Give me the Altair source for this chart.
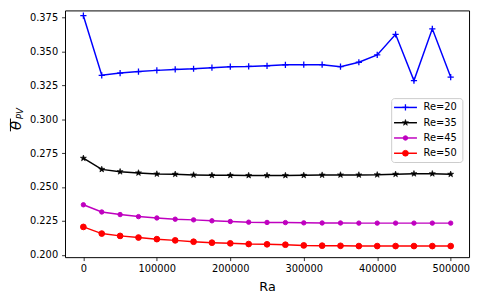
import math
import altair as alt
import pandas as pd

# ---------------- data ----------------
ra = [0, 25000, 50000, 75000, 100000, 125000, 150000, 175000, 200000, 225000,
      250000, 275000, 300000, 325000, 350000, 375000, 400000, 425000, 450000,
      475000, 500000]
re20 = [0.3762, 0.3323, 0.3339, 0.3350, 0.3359, 0.3366, 0.3371, 0.3379, 0.3386,
        0.3388, 0.3393, 0.3400, 0.3401, 0.3401, 0.3386, 0.3419, 0.3473, 0.3625,
        0.3284, 0.3665, 0.3310]
re35 = [0.2712, 0.2630, 0.2613, 0.2604, 0.2596, 0.2594, 0.2589, 0.2586, 0.2586,
        0.2585, 0.2585, 0.2585, 0.2586, 0.2588, 0.2589, 0.2589, 0.2590, 0.2594,
        0.2598, 0.2598, 0.2594]
re45 = [0.2369, 0.2316, 0.2297, 0.2282, 0.2272, 0.2263, 0.2258, 0.2251, 0.2246,
        0.2241, 0.2239, 0.2238, 0.2236, 0.2235, 0.2235, 0.2234, 0.2234, 0.2234,
        0.2234, 0.2234, 0.2234]
re50 = [0.2206, 0.2157, 0.2140, 0.2128, 0.2116, 0.2107, 0.2097, 0.2090, 0.2085,
        0.2080, 0.2078, 0.2075, 0.2070, 0.2068, 0.2067, 0.2065, 0.2065, 0.2065,
        0.2065, 0.2065, 0.2065]
labels = ["Re=20", "Re=35", "Re=45", "Re=50"]
x_ticks = [0, 100000, 200000, 300000, 400000, 500000]
y_ticks = [0.200, 0.225, 0.250, 0.275, 0.300, 0.325, 0.350, 0.375]

# ---------------- styles ----------------
colors = ["#0000ff", "#000000", "#bf00bf", "#ff0000"]
star = "M" + "L".join(
    f"{(1 if k % 2 == 0 else 0.40) * math.cos(-math.pi / 2 + k * math.pi / 5):.3f},"
    f"{(1 if k % 2 == 0 else 0.40) * math.sin(-math.pi / 2 + k * math.pi / 5):.3f}"
    for k in range(10)) + "Z"
plus = "M-1,0L1,0M0,-1L0,1"
shapes = [plus, star, "circle", "circle"]
sizes = [40, 42, 20, 34]
swidths = [1.3, 0.6, 1.0, 1.0]

series = [re20, re35, re45, re50]
rows = []
for i, lab in enumerate(labels):
    for xv, yv in zip(ra, series[i]):
        rows.append({"Ra": xv, "theta": yv, "series": lab, "color": colors[i],
                     "shape": shapes[i], "size": sizes[i], "sw": swidths[i]})
df = pd.DataFrame(rows)

leg = pd.DataFrame({"label": labels, "idx": list(range(4)), "color": colors,
                    "shape": shapes, "size": sizes, "sw": swidths})
one = pd.DataFrame({"a": [0]})

W, H = 411, 251
FONT = "DejaVu Sans"

xs = alt.Scale(domain=[-25000, 525000], nice=False, zero=False)
ys = alt.Scale(domain=[0.19833, 0.38007], nice=False, zero=False)
xaxis = alt.Axis(values=x_ticks, format="d", labelOverlap=False)
yaxis = alt.Axis(values=y_ticks, format=".3f", labelOverlap=False)
X = alt.X("Ra:Q", scale=xs, title="Ra", axis=xaxis)
Y = alt.Y("theta:Q", scale=ys, title=None, axis=yaxis)

base = alt.Chart(df)
lines = base.mark_line(strokeWidth=1.5).encode(
    x=X, y=Y,
    color=alt.Color("color:N", scale=None),
    detail="series:N",
)
pts = base.mark_point(filled=True, opacity=1).encode(
    x=X, y=Y,
    shape=alt.Shape("shape:N", scale=None),
    size=alt.Size("size:Q", scale=None),
    fill=alt.Fill("color:N", scale=None),
    stroke=alt.Stroke("color:N", scale=None),
    strokeWidth=alt.StrokeWidth("sw:Q", scale=None),
)
main = alt.layer(lines, pts)

# ---------------- legend ----------------
ly = alt.Y("idx:Q", scale=alt.Scale(domain=[0, 3], range=[98.7, 145.3]), axis=None)
box = alt.Chart(one).mark_rect(fill="white", fillOpacity=0.8, stroke="#cccccc",
                               strokeWidth=1, cornerRadius=3).encode(
    x=alt.value(332.3), x2=alt.value(404.7), y=alt.value(89.7), y2=alt.value(154.7))
lrule = alt.Chart(leg).mark_rule(strokeWidth=1.5).encode(
    x=alt.value(334.7), x2=alt.value(358), y=ly,
    color=alt.Color("color:N", scale=None))
lpts = alt.Chart(leg).mark_point(filled=True, opacity=1).encode(
    x=alt.value(346.3), y=ly,
    shape=alt.Shape("shape:N", scale=None),
    size=alt.Size("size:Q", scale=None),
    fill=alt.Fill("color:N", scale=None),
    stroke=alt.Stroke("color:N", scale=None),
    strokeWidth=alt.StrokeWidth("sw:Q", scale=None))
ltxt = alt.Chart(leg).mark_text(align="left", baseline="middle", fontSize=10,
                                font=FONT, color="#000").encode(
    x=alt.value(364.7), y=ly, text="label:N")

# ---------------- y title (theta bar, subscript PV) ----------------
th = alt.Chart(one).mark_text(text="θ", angle=270, fontSize=15, font=FONT,
                              fontStyle="italic", align="center",
                              baseline="middle", color="#000").encode(
    x=alt.value(-50), y=alt.value(117))
sub = alt.Chart(one).mark_text(text="PV", angle=270, fontSize=9, font=FONT,
                               fontStyle="italic", align="center",
                               baseline="middle", color="#000").encode(
    x=alt.value(-45.5), y=alt.value(105))
bar = alt.Chart(one).mark_rule(strokeWidth=1, color="#000").encode(
    x=alt.value(-55.5), y=alt.value(110), y2=alt.value(123))

legend = alt.layer(box, lrule, lpts, ltxt, th, sub, bar)

chart = alt.layer(main, legend).resolve_scale(y="independent").properties(
    width=W, height=H,
    autosize=alt.AutoSizeParams(type="none"),
    padding={"left": 58, "top": 0, "right": 3, "bottom": 34},
).configure_view(stroke="#000", strokeWidth=1).configure_axis(
    grid=False, domain=False, tickColor="#000", tickSize=3.5, tickWidth=0.8,
    labelFont=FONT, labelFontSize=10, labelColor="#000", labelPadding=3,
    titleFont=FONT, titleFontSize=13, titleFontWeight="normal", titleColor="#000",
    labelFlush=False,
).configure_axisX(titlePadding=7).configure_axisY(labelPadding=4)

chart.save("out.html", embed_options={"renderer": "svg", "actions": False})
